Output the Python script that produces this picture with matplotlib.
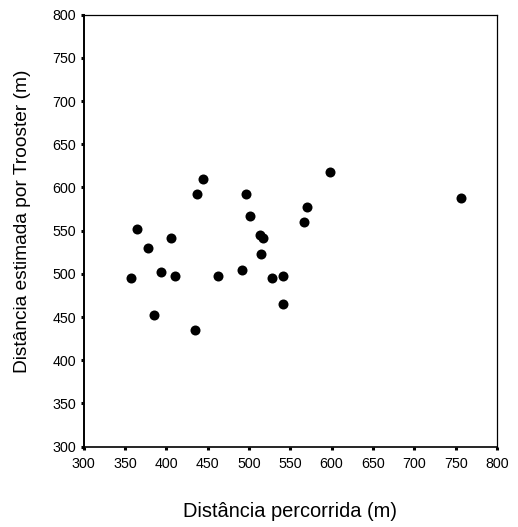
import matplotlib
matplotlib.use("Agg")
import matplotlib.pyplot as plt

# distances in metres: covered vs. estimated by the Trooster equation
percorrida = [444, 437, 497, 570, 567, 365, 406, 501, 513, 517, 378, 515,
              358, 394, 411, 463, 492, 528, 541, 541, 385, 435, 598, 757]
trooster = [610, 593, 593, 577, 560, 552, 542, 567, 545, 541, 530, 523,
            495, 502, 497, 498, 505, 495, 497, 465, 452, 435, 618, 588]

ticks = list(range(300, 801, 50))

plt.rcParams['font.family'] = ['Liberation Sans', 'DejaVu Sans']

fig = plt.figure(figsize=(5.18, 5.27), dpi=100)
ax = fig.add_axes([0.1612, 0.1524, 0.7983, 0.8197])

ax.scatter(percorrida, trooster, s=52, color='black', linewidths=0, zorder=3)

ax.set_xlim(300, 800)
ax.set_ylim(300, 800)
ax.set_xticks(ticks)
ax.set_yticks(ticks)
ax.tick_params(direction='out', length=2.5, width=2.2, labelsize=10.3, pad=3)
ax.tick_params(axis='x', pad=5)
ax.tick_params(top=False, right=False)

ax.spines['left'].set_linewidth(1.4)
ax.spines['bottom'].set_linewidth(1.2)
ax.spines['top'].set_linewidth(0.9)
ax.spines['right'].set_linewidth(0.9)

ax.set_xlabel('Distância percorrida (m)', fontsize=14.4)
ax.set_ylabel('Distância estimada por Trooster (m)', fontsize=13.8)
ax.xaxis.set_label_coords(0.5, -(511.5 - 446.7) / 432.0, transform=ax.transAxes)
ax.yaxis.set_label_coords(-(83.5 - 23) / 413.5, (446.7 - 221) / 432.0, transform=ax.transAxes)
ax.xaxis.label.set_va('center')
ax.yaxis.label.set_va('center')

fig.savefig('out.png', dpi=100)
